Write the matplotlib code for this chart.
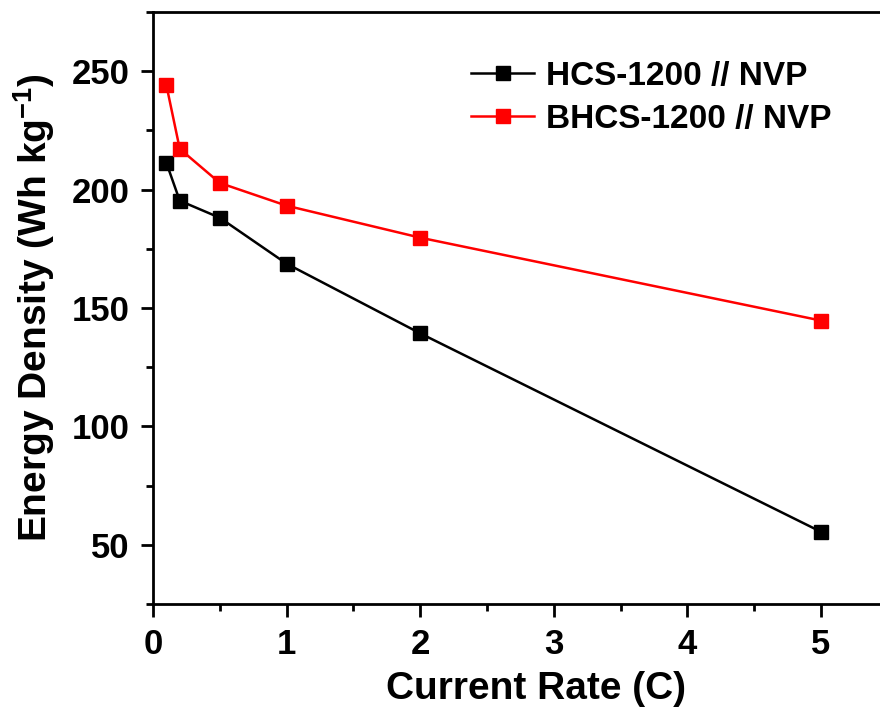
import matplotlib
matplotlib.use('Agg')
import matplotlib.pyplot as plt
from matplotlib.ticker import MultipleLocator

plt.rcParams['font.family'] = ['Liberation Sans', 'DejaVu Sans']
plt.rcParams['font.weight'] = 'bold'
plt.rcParams['mathtext.fontset'] = 'custom'
plt.rcParams['mathtext.bf'] = 'Liberation Sans:bold'
plt.rcParams['mathtext.rm'] = 'Liberation Sans:bold'

rate = [0.1, 0.2, 0.5, 1, 2, 5]
hcs = [211.3, 195.3, 188.1, 168.7, 139.3, 55.5]
bhcs = [244.1, 217.2, 202.8, 193.2, 179.7, 144.7]

fig = plt.figure(figsize=(8.8, 7.17), dpi=100)
ax = fig.add_axes([0.1739, 0.1576, 0.85, 0.8257])

ax.plot(rate, hcs, color='black', marker='s', markersize=9.5, linewidth=1.8,
        label='HCS-1200 // NVP')
ax.plot(rate, bhcs, color='red', marker='s', markersize=9.5, linewidth=1.8,
        label='BHCS-1200 // NVP')

ax.set_xlim(0, 5.6)
ax.set_ylim(25, 275)
ax.xaxis.set_major_locator(MultipleLocator(1))
ax.xaxis.set_minor_locator(MultipleLocator(0.5))
ax.yaxis.set_minor_locator(MultipleLocator(25))
ax.set_yticks([50, 100, 150, 200, 250])

for s in ax.spines.values():
    s.set_linewidth(2)
ax.tick_params(which='major', direction='out', length=9, width=2, labelsize=25, pad=8)
ax.tick_params(which='minor', direction='out', length=5, width=2)

ax.set_xlabel('Current Rate (C)', fontsize=28, fontweight='bold')
ax.xaxis.set_label_coords(0.512, -0.113)
ax.set_ylabel('Energy Density (Wh kg$^{\\mathbf{-1}}$)', fontsize=28, fontweight='bold')
ax.yaxis.set_label_coords(-0.129, 0.5)

ax.legend(loc='upper left', bbox_to_anchor=(0.385, 0.968), frameon=False,
          fontsize=24, handlelength=1.9, handletextpad=0.35, labelspacing=0.35)

fig.savefig('out.png', dpi=100)
